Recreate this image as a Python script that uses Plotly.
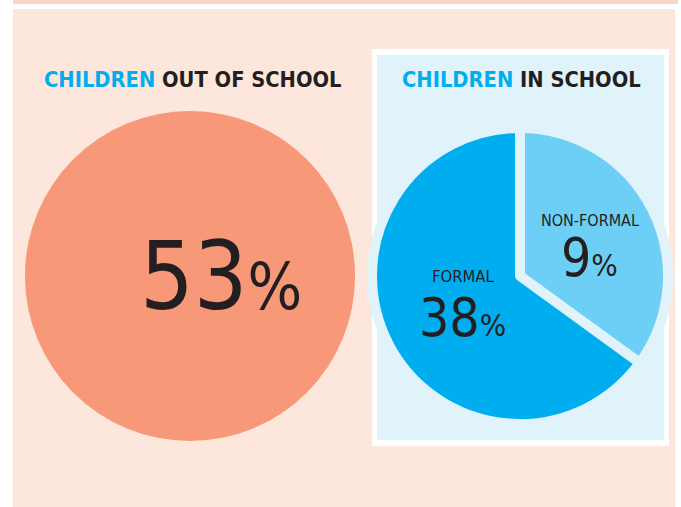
import plotly.graph_objects as go

W, H = 681, 507

# ---- data ----
out_label = ["Out of school"]
out_value = [53]
out_text = "53"
in_labels = ["Non-formal", "Formal"]
in_text = ["9", "38"]
# wedge shares as drawn in the picture (non-formal wedge ~ 1/3 of the circle)
in_wedge_share = [35, 65]

FONT = "DejaVu Sans Condensed, Liberation Sans Narrow, sans-serif"
DARK = "#231f20"
BLUE = "#00aeef"
LIGHTBLUE = "#6dcff6"
PALEBLUE = "#e0f3fb"
SALMON = "#f79878"
PEACH = "#fde6dc"
STRIP = "#fbd6c4"


def px(x):
    return x / W


def py(y):
    return 1 - y / H


fig = go.Figure()

# big pie: centre (190,276) r=165
fig.add_trace(go.Pie(
    labels=out_label, values=out_value, sort=False,
    marker=dict(colors=[SALMON], line=dict(width=0)),
    textinfo="none", hoverinfo="skip", showlegend=False,
    domain=dict(x=[px(25), px(355)], y=[py(441), py(111)]),
))

# in-school pie: centre (520,276) R=148 with 10px stroke of background colour
fig.add_trace(go.Pie(
    labels=in_labels, values=in_wedge_share, sort=False,
    direction="clockwise", rotation=0,
    marker=dict(colors=[LIGHTBLUE, BLUE], line=dict(width=10, color=PALEBLUE)),
    textinfo="none", hoverinfo="skip", showlegend=False,
    domain=dict(x=[px(372), px(668)], y=[py(424), py(128)]),
))


def rect(x0, y0, x1, y1, color):
    return dict(type="rect", xref="paper", yref="paper",
                x0=px(x0), x1=px(x1), y0=py(y1), y1=py(y0),
                fillcolor=color, line=dict(width=0), layer="below")


shapes = [
    rect(13, 0, 678, 4, STRIP),
    rect(13, 9, 675, 507, PEACH),
    rect(372, 49, 669, 446, "white"),
    rect(377, 55, 664, 440, PALEBLUE),
]


def ann(x, y, text, size, anchor="middle", color=DARK):
    return dict(x=px(x), y=py(y), xref="paper", yref="paper", text=text,
                showarrow=False, xanchor="center", yanchor=anchor,
                font=dict(family=FONT, size=size, color=color))


annotations = [
    ann(193, 79, f"<b><span style='color:{BLUE}'>CHILDREN</span> OUT OF SCHOOL</b>", 21.7),
    ann(521, 79, f"<b><span style='color:{BLUE}'>CHILDREN</span> IN SCHOOL</b>", 21.7),
    ann(221, 276, f"{out_text}<span style='font-size:64px'>%</span>", 94),
    ann(590, 220, in_labels[0].upper(), 16),
    ann(589, 257, f"{in_text[0]}<span style='font-size:31px'>%</span>", 53),
    ann(463, 276, in_labels[1].upper(), 16.5),
    ann(462, 317, f"{in_text[1]}<span style='font-size:31px'>%</span>", 53),
]

fig.update_layout(
    width=W, height=H, margin=dict(l=0, r=0, t=0, b=0),
    paper_bgcolor="white", plot_bgcolor="white",
    shapes=shapes, annotations=annotations, showlegend=False,
)

fig.write_html("out.html", config={"displayModeBar": False},
               post_script="document.body.style.margin='0px';")
